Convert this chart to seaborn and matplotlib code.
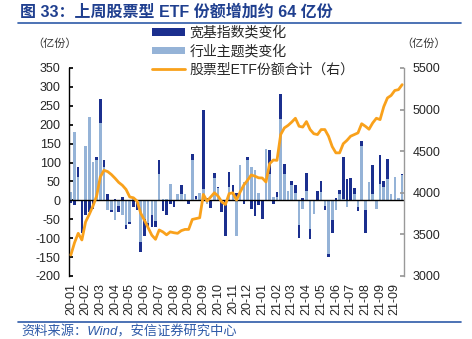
import numpy as np
import pandas as pd
import matplotlib
matplotlib.use("Agg")
import matplotlib.pyplot as plt
import seaborn as sns
from matplotlib.lines import Line2D
from matplotlib.patches import Patch

# ---------------- data ----------------
tick_labels = ["20-01", "20-02", "20-03", "20-04", "20-05", "20-06", "20-07", "20-08",
               "20-09", "20-09", "20-10", "20-11", "20-12", "21-01", "21-02", "21-03",
               "21-04", "21-05", "21-06", "21-07", "21-08", "21-09", "21-09"]

# 行业主题类变化 (light)
industry = [21, 182, 62, 0, 143, 220, 101, 106, 204, 88,
            -26, -26, -51, -15, -40, -65, -57, 5, 0, -110,
            -50, -60, -40, -55, 70, 3, 3, 44, 0, 16,
            16, 16, 0, 107, 3, 20, 31, -10, 0, 60,
            33, 0, 0, 35, 15, -95, 94, 48, 106, 88,
            80, 20, 0, 137, 70, 10, 8, 216, 70, 25,
            40, 20, -65, -22, 25, -75, -35, 0, 22, -15,
            -141, -53, -25, 18, 3, -18, 0, 18, -18, 143,
            -26, 48, 18, -22, 42, 35, 56, 18, 62, 5, 68]

# 宽基指数类变化 (dark)
broad = [-7, -13, 26, -85, -40, -31, -22, 9, 63, 19,
         18, -4, 4, -16, 9, -10, -6, -17, -26, -27,
         -45, -10, -30, -15, 37, -28, -38, -9, -18, 0,
         25, 0, -10, 16, 8, 0, 209, 5, -20, 12,
         3, -30, -95, 40, 25, 20, 0, -9, 9, -22,
         -42, -13, -48, 0, 62, -10, 13, 66, 25, 0,
         11, 20, -34, 5, 47, -26, 0, 26, 29, -10,
         -9, -33, 6, 10, 112, 57, 60, 15, -10, 13,
         -60, 0, 75, 0, 79, 16, 54, 0, 0, 0, 2]

# 股票型ETF份额合计（右）
total = [3252, 3400, 3513, 3433, 3650, 3740, 3840, 3960, 4190, 4270,
         4255, 4220, 4175, 4125, 4090, 4040, 3950, 3940, 3900, 3753,
         3670, 3580, 3490, 3441, 3553, 3530, 3495, 3530, 3520, 3513,
         3545, 3560, 3560, 3680, 3690, 3700, 3980, 3900, 3950, 4001,
         3960, 3890, 3860, 3990, 4000, 3913, 4010, 4094, 4150, 4214,
         4200, 4180, 4178, 4130, 4350, 4394, 4390, 4700, 4780, 4810,
         4850, 4896, 4800, 4790, 4856, 4760, 4710, 4700, 4760, 4760,
         4680, 4555, 4480, 4480, 4590, 4630, 4680, 4700, 4720, 4830,
         4800, 4764, 4840, 4896, 4880, 5035, 5140, 5170, 5230, 5240, 5300]

n = len(total)
ind = np.array(industry, dtype=float)
brd = np.array(broad, dtype=float)
# stacked: dark drawn as cumulative when same sign as light
same = np.sign(ind) * np.sign(brd) > 0
dark_draw = np.where(same, ind + brd, brd)

df = pd.DataFrame({"pos": np.arange(n), "light": ind, "dark": dark_draw, "total": total})
df["cat"] = df["pos"].astype(str)
order = list(df["cat"])

# ---------------- style ----------------
sns.set_theme(style="white")
plt.rcParams["font.family"] = ["Liberation Sans", "Noto Sans CJK SC", "DejaVu Sans"]
plt.rcParams["axes.unicode_minus"] = False

DARK = "#1b2f8e"
LIGHT = "#95b3d7"
ORANGE = "#f9a11b"
TITLEBLUE = "#1f3f8f"
LINEBLUE = "#2e5aa8"

fig = plt.figure(figsize=(4.72, 3.39), dpi=100)
ax = fig.add_axes([69 / 472, 1 - 276 / 339, (404 - 69) / 472, (276 - 68) / 339])

sns.barplot(data=df, x="cat", y="dark", order=order, color=DARK, width=0.7,
            saturation=1, ax=ax, errorbar=None, linewidth=0)
sns.barplot(data=df, x="cat", y="light", order=order, color=LIGHT, width=0.7,
            saturation=1, ax=ax, errorbar=None, linewidth=0)
ax.axhline(0, color="black", lw=1.0, zorder=3)

ax.set_xlim(-0.5, n - 0.5)
ax.set_ylim(-200, 350)
ax.set_yticks(np.arange(-200, 351, 50))
ax.set_xticks(np.arange(0, n, 4)[:len(tick_labels)])
ax.set_xticklabels(tick_labels, rotation=90, fontsize=9)
ax.set_xlabel("")
ax.set_ylabel("")
ax.tick_params(axis="y", direction="in", length=3, labelsize=9, pad=6, color="black")
ax.tick_params(axis="x", length=0, pad=5)
for s in ["top", "bottom", "right"]:
    ax.spines[s].set_visible(False)
ax.spines["left"].set_color("black")
ax.spines["left"].set_linewidth(1.0)

ax2 = ax.twinx()
sns.lineplot(data=df, x="pos", y="total", color=ORANGE, lw=2.0, ax=ax2, zorder=5)
ax2.set_ylim(3000, 5500)
ax2.set_yticks(np.arange(3000, 5501, 500))
ax2.set_ylabel("")
ax2.set_xlabel("")
ax2.set_xlim(-0.5, n - 0.5)
ax2.tick_params(axis="y", direction="in", length=3, labelsize=9, pad=6, color="#999999")
for s in ["top", "bottom", "left"]:
    ax2.spines[s].set_visible(False)
ax2.spines["right"].set_color("#999999")
ax2.spines["right"].set_linewidth(1.0)

# ---------------- texts ----------------
fig.text(20 / 472, 1 - 12 / 339, "图 33：上周股票型 ETF 份额增加约 64 亿份", fontsize=11.5,
         fontweight="bold", color=TITLEBLUE, va="center", ha="left",
         family=["Liberation Sans", "Noto Sans CJK SC"])
fig.add_artist(Line2D([18 / 472, 461 / 472], [1 - 23 / 339, 1 - 23 / 339],
                      color=LINEBLUE, lw=1.2, transform=fig.transFigure))
fig.add_artist(Line2D([18 / 472, 461 / 472], [1 - 322 / 339, 1 - 322 / 339],
                      color=LINEBLUE, lw=1.2, transform=fig.transFigure))
fig.text(21 / 472, 1 - 332 / 339, "资料来源：Wind，安信证券研究中心", fontsize=9.5,
         color=LINEBLUE, style="italic", va="center", ha="left",
         family=["Liberation Sans", "Noto Sans CJK SC"])

fig.text(55 / 472, 1 - 44 / 339, "（亿份）", fontsize=8, va="center", ha="center",
         color="#333333", family=["Noto Sans CJK SC"])
fig.text(424 / 472, 1 - 44 / 339, "（亿份）", fontsize=8, va="center", ha="center",
         color="#333333", family=["Noto Sans CJK SC"])

handles = [Patch(facecolor=DARK, edgecolor="none"),
           Patch(facecolor=LIGHT, edgecolor="none"),
           Line2D([0], [0], color=ORANGE, lw=2.0)]
labels = ["宽基指数类变化", "行业主题类变化", "股票型ETF份额合计（右）"]
fig.legend(handles, labels, loc="upper left", bbox_to_anchor=(149 / 472, 1 - 23 / 339),
           frameon=False, fontsize=10, handlelength=2.4, handleheight=0.45,
           handletextpad=0.3, labelspacing=0.32, borderaxespad=0, borderpad=0.2)

fig.savefig("out.png", dpi=100)
